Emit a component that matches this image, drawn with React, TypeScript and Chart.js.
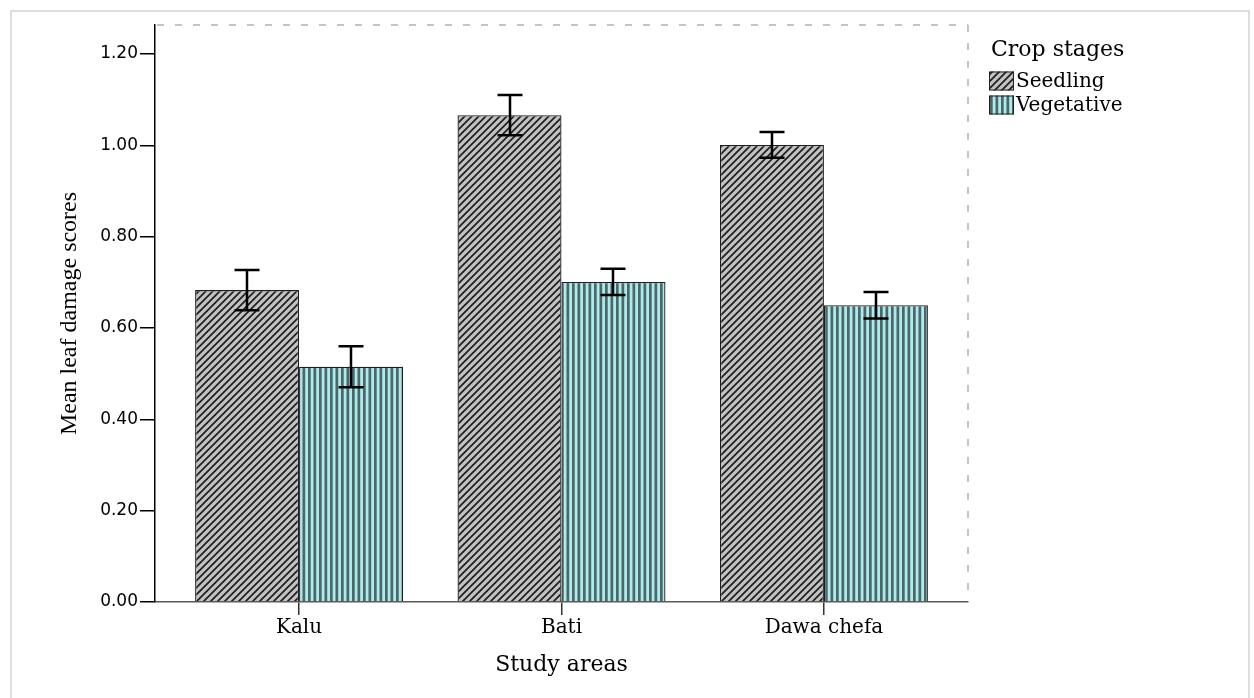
import React, { useEffect, useRef } from 'react';
import { Chart, registerables } from 'chart.js';

Chart.register(...registerables);

const categories = ['Kalu', 'Bati', 'Dawa chefa'];
const seriesNames = ['Seedling', 'Vegetative'];
const seedlingMeans = [0.683, 1.066, 1.001];
const seedlingErrors = [0.044, 0.044, 0.028];
const vegetativeMeans = [0.515, 0.701, 0.65];
const vegetativeErrors = [0.045, 0.029, 0.029];
const yTicks = [0, 0.2, 0.4, 0.6, 0.8, 1.0, 1.2];
const legendTitle = 'Crop stages';
const xTitle = 'Study areas';
const yTitle = 'Mean leaf damage scores';

const W = 1254;
const H = 698;

function hatchPattern(ctx: CanvasRenderingContext2D) {
  const s = 7;
  const c = document.createElement('canvas');
  c.width = s;
  c.height = s;
  const p = c.getContext('2d')!;
  p.fillStyle = '#c2c2c2';
  p.fillRect(0, 0, s, s);
  p.strokeStyle = '#1e1e1e';
  p.lineWidth = 1.7;
  p.beginPath();
  p.moveTo(-1, s + 1);
  p.lineTo(s + 1, -1);
  p.moveTo(-1, 1);
  p.lineTo(1, -1);
  p.moveTo(s - 1, s + 1);
  p.lineTo(s + 1, s - 1);
  p.stroke();
  return ctx.createPattern(c, 'repeat')!;
}

function stripePattern(ctx: CanvasRenderingContext2D) {
  const w = 11;
  const c = document.createElement('canvas');
  c.width = w;
  c.height = 4;
  const p = c.getContext('2d')!;
  p.fillStyle = '#aee9eb';
  p.fillRect(0, 0, w, 4);
  p.fillStyle = '#4b6768';
  p.fillRect(0, 0, 2.7, 4);
  p.fillRect(5.5, 0, 2.7, 4);
  return ctx.createPattern(c, 'repeat')!;
}

export default function App() {
  const ref = useRef<HTMLCanvasElement | null>(null);

  useEffect(() => {
    const canvas = ref.current!;
    const ctx = canvas.getContext('2d')!;
    const fills = [hatchPattern(ctx), stripePattern(ctx)];
    const means = [seedlingMeans, vegetativeMeans];
    const errors = [seedlingErrors, vegetativeErrors];

    const framePlugin = {
      id: 'frame',
      beforeDraw(chart: any) {
        const c = chart.ctx;
        c.save();
        c.strokeStyle = '#dedede';
        c.lineWidth = 2;
        c.beginPath();
        c.moveTo(11, H + 5);
        c.lineTo(11, 11);
        c.lineTo(1249, 11);
        c.lineTo(1249, H + 5);
        c.stroke();
        c.restore();
      },
      afterDraw(chart: any) {
        const c = chart.ctx;
        const a = chart.chartArea;
        c.save();
        c.strokeStyle = '#c4c4c4';
        c.lineWidth = 2;
        c.setLineDash([7, 11]);
        c.beginPath();
        c.moveTo(a.left + 2, a.top);
        c.lineTo(a.right, a.top);
        c.moveTo(a.right, a.top);
        c.lineTo(a.right, a.bottom - 1);
        c.stroke();
        c.restore();

        // legend
        c.save();
        c.fillStyle = '#000';
        c.textBaseline = 'middle';
        c.textAlign = 'left';
        c.font = '22px "DejaVu Serif"';
        c.fillText(legendTitle, 991, 50);
        c.font = '20px "DejaVu Serif"';
        const rowY = [81, 105];
        seriesNames.forEach((name, i) => {
          const y = rowY[i];
          c.fillStyle = fills[i];
          c.fillRect(989, y - 9.5, 25, 19);
          c.strokeStyle = '#222';
          c.lineWidth = 1;
          c.strokeRect(989.5, y - 9, 24, 18);
          c.fillStyle = '#000';
          c.fillText(name, 1016, y + 1);
        });
        c.restore();
      },
      afterDatasetsDraw(chart: any) {
        const c = chart.ctx;
        const ys = chart.scales.y;
        c.save();
        c.strokeStyle = '#000';
        c.lineWidth = 2.5;
        chart.data.datasets.forEach((_: any, di: number) => {
          const meta = chart.getDatasetMeta(di);
          meta.data.forEach((bar: any, i: number) => {
            const v = means[di][i];
            const e = errors[di][i];
            const x = Math.round(bar.x);
            const yt = ys.getPixelForValue(v + e);
            const yb = ys.getPixelForValue(v - e);
            c.beginPath();
            c.moveTo(x, yt);
            c.lineTo(x, yb);
            c.moveTo(x - 12.5, yt);
            c.lineTo(x + 12.5, yt);
            c.moveTo(x - 12.5, yb);
            c.lineTo(x + 12.5, yb);
            c.stroke();
          });
        });
        c.restore();
      },
    };

    const chart = new Chart(canvas, {
      type: 'bar',
      data: {
        datasets: seriesNames.map((name, di) => ({
          label: name,
          data: categories.map((_, i) => ({ x: i, y: means[di][i] })),
          backgroundColor: fills[di],
          borderColor: '#1e1e1e',
          borderWidth: 1.3,
          categoryPercentage: 0.7924,
          barPercentage: 1,
        })),
      },
      options: {
        responsive: false,
        animation: false,
        layout: { padding: { left: 0, right: W - 968, top: 25, bottom: 0 } },
        plugins: {
          legend: { display: false },
          tooltip: { enabled: false },
        },
        scales: {
          x: {
            type: 'linear',
            offset: false,
            min: -0.549,
            max: 2.549,
            afterBuildTicks: (axis: any) => {
              axis.ticks = categories.map((_, i) => ({ value: i }));
            },
            afterFit: (axis: any) => {
              axis.height = H - 602;
            },
            ticks: {
              autoSkip: false,
              maxRotation: 0,
              callback: (v: any) => categories[v] ?? '',
              font: { family: 'DejaVu Serif', size: 20 },
              color: '#000',
              padding: 1,
            },
            grid: {
              display: true,
              offset: false,
              drawOnChartArea: false,
              drawTicks: true,
              tickLength: 13,
              color: '#333',
              lineWidth: 1.5,
            },
            border: { display: true, color: '#5a5a5a', width: 1.5 },
            title: {
              display: true,
              text: xTitle,
              font: { family: 'DejaVu Serif', size: 22 },
              color: '#000',
              padding: { top: 0, bottom: 19.8 },
            },
          },
          y: {
            min: 0,
            max: 1.2635,
            afterBuildTicks: (axis: any) => {
              axis.ticks = yTicks.map((v) => ({ value: v }));
            },
            afterFit: (axis: any) => {
              axis.width = 155;
            },
            ticks: {
              callback: (v: any) => Number(v).toFixed(2),
              font: { family: 'DejaVu Sans', size: 17 },
              color: '#000',
              padding: 2,
            },
            grid: {
              display: true,
              drawOnChartArea: false,
              drawTicks: true,
              tickLength: 15,
              color: '#000',
              lineWidth: 1.5,
            },
            border: { display: true, color: '#000', width: 1.5 },
            title: {
              display: true,
              text: yTitle,
              font: { family: 'Liberation Serif', size: 24 },
              color: '#000',
              padding: { top: 55.6, bottom: 0 },
            },
          },
        },
      },
      plugins: [framePlugin],
    } as any);

    return () => chart.destroy();
  }, []);

  return (
    <canvas
      ref={ref}
      width={W}
      height={H}
      style={{ position: 'fixed', left: 0, top: 0, display: 'block' }}
    />
  );
}
